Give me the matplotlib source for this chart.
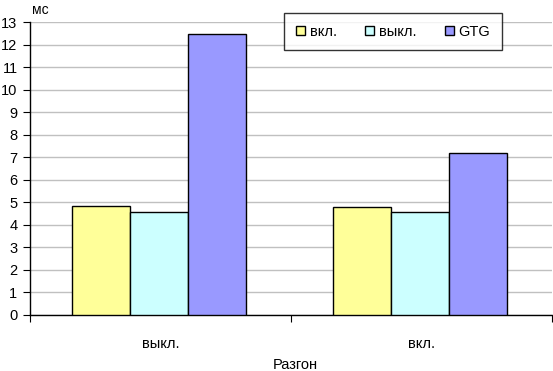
import matplotlib
matplotlib.use("Agg")
import matplotlib.pyplot as plt
import numpy as np

plt.rcParams["font.family"] = ["Liberation Sans", "DejaVu Sans"]

categories = ["выкл.", "вкл."]
series_names = ["вкл.", "выкл.", "GTG"]
values_on = [4.84, 4.78]
values_off = [4.56, 4.56]
values_gtg = [12.45, 7.17]
colors = ["#FFFF99", "#CCFFFF", "#9999FF"]
y_ticks = list(range(0, 14))

fig = plt.figure(figsize=(5.53, 3.71), dpi=100)
ax = fig.add_axes([30 / 553, 56 / 371, 522 / 553, 293 / 371])

x = np.arange(len(categories)) + 0.5
width = 0.222
for i, (vals, name, col) in enumerate(zip([values_on, values_off, values_gtg], series_names, colors)):
    ax.bar(x - 0.006 + (i - 1) * width, vals, width, color=col, edgecolor="black", linewidth=1,
           label=name, zorder=3)

ax.set_xlim(0, len(categories))
ax.set_ylim(0, 13)
ax.set_yticks(y_ticks)
ax.yaxis.grid(True, color="#C0C0C0", linewidth=1, zorder=0)
ax.set_xticks(np.arange(len(categories) + 1))
ax.set_xticklabels([])
ax.set_xticks(x, minor=True)
ax.set_xticklabels(categories, minor=True)
ax.tick_params(axis="x", which="major", length=5, direction="out", color="black")
ax.tick_params(axis="x", which="minor", length=0, pad=16, labelsize=10.5)
ax.tick_params(axis="y", length=5, direction="out", labelsize=10.5, pad=4)
for s in ["top", "right"]:
    ax.spines[s].set_visible(False)
for s in ["left", "bottom"]:
    ax.spines[s].set_linewidth(1)
    ax.spines[s].set_color("black")

fig.text(40 / 553, 1 - 10 / 371, "мс", fontsize=10, ha="center", va="center")
fig.text(295 / 553, 1 - 365 / 371, "Разгон", fontsize=10.5, ha="center", va="center")

leg = ax.legend(loc="upper left", bbox_to_anchor=(254 / 522, 1 + 9 / 293), ncol=3, frameon=True,
                fancybox=False, edgecolor="black", fontsize=10.5, handlelength=0.65, handleheight=0.65,
                columnspacing=1.95, handletextpad=0.3, borderpad=0.8, borderaxespad=0)
leg.get_frame().set_linewidth(1)

fig.savefig("out.png", dpi=100)
